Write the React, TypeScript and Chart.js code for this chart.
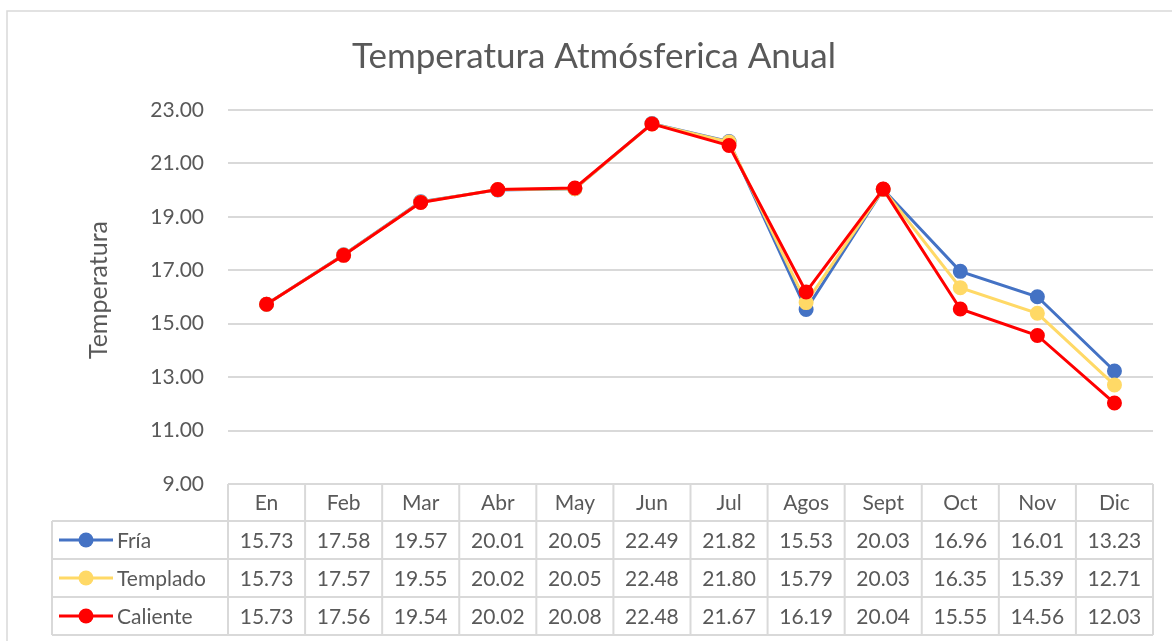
import React, { useEffect, useRef } from "react";
import { Chart, registerables } from "chart.js";

Chart.register(...registerables);

const TITLE = "Temperatura Atmósferica Anual";
const Y_TITLE = "Temperatura";
const categories = ["En", "Feb", "Mar", "Abr", "May", "Jun", "Jul", "Agos", "Sept", "Oct", "Nov", "Dic"];
const seriesNames = ["Fría", "Templado", "Caliente"];
const seriesColors = ["#4472C4", "#FFD966", "#FF0000"];
const fria = [15.73, 17.58, 19.57, 20.01, 20.05, 22.49, 21.82, 15.53, 20.03, 16.96, 16.01, 13.23];
const templado = [15.73, 17.57, 19.55, 20.02, 20.05, 22.48, 21.8, 15.79, 20.03, 16.35, 15.39, 12.71];
const caliente = [15.73, 17.56, 19.54, 20.02, 20.08, 22.48, 21.67, 16.19, 20.04, 15.55, 14.56, 12.03];
const seriesValues = [fria, templado, caliente];
const yMin = 9;
const yMax = 23;
const yStep = 2;

const FONT = "Lato, 'Open Sans', sans-serif";
const TEXT = "#595959";
const LINE = "#d9d9d9";

export default function App() {
  const ref = useRef<HTMLCanvasElement | null>(null);

  useEffect(() => {
    const canvas = ref.current;
    if (!canvas) return;

    const decor = {
      id: "decor",
      beforeDraw(chart: any) {
        const ctx = chart.ctx;
        ctx.save();
        ctx.fillStyle = "#ffffff";
        ctx.fillRect(0, 0, chart.width, chart.height);
        ctx.strokeStyle = LINE;
        ctx.lineWidth = 1.5;
        ctx.strokeRect(7, 11, 1300, 800);
        ctx.restore();
      },
      afterDraw(chart: any) {
        const ctx = chart.ctx;
        const area = chart.chartArea;
        const xs = chart.scales.x;
        ctx.save();
        // title
        ctx.fillStyle = TEXT;
        ctx.font = `35px ${FONT}`;
        ctx.textAlign = "center";
        ctx.textBaseline = "alphabetic";
        ctx.fillText(TITLE, 594, 68);
        // y title
        ctx.save();
        ctx.translate(107, 290);
        ctx.rotate(-Math.PI / 2);
        ctx.font = `25px ${FONT}`;
        ctx.textAlign = "center";
        ctx.textBaseline = "alphabetic";
        ctx.fillText(Y_TITLE, 0, 0);
        ctx.restore();

        // data table
        const n = categories.length;
        const cw = (area.right - area.left) / n;
        const top = area.bottom;
        const headerH = 37;
        const rowH = 38;
        const legendLeft = 52;
        const tableBottom = top + headerH + rowH * seriesNames.length;
        ctx.strokeStyle = LINE;
        ctx.lineWidth = 2;
        ctx.beginPath();
        ctx.moveTo(area.left, top);
        ctx.lineTo(area.right, top);
        for (let r = 0; r <= seriesNames.length; r++) {
          const y = top + headerH + r * rowH;
          ctx.moveTo(legendLeft, y);
          ctx.lineTo(area.right, y);
        }
        for (let i = 0; i <= n; i++) {
          const x = area.left + i * cw;
          ctx.moveTo(x, top);
          ctx.lineTo(x, tableBottom);
        }
        ctx.moveTo(legendLeft, top + headerH);
        ctx.lineTo(legendLeft, tableBottom);
        ctx.stroke();

        ctx.fillStyle = TEXT;
        ctx.font = `21px ${FONT}`;
        ctx.textBaseline = "middle";
        ctx.textAlign = "center";
        for (let i = 0; i < n; i++) {
          const cx = xs.getPixelForValue(i);
          ctx.fillText(categories[i], cx, top + headerH / 2 + 1);
          for (let s = 0; s < seriesNames.length; s++) {
            const cy = top + headerH + s * rowH + rowH / 2 + 1;
            ctx.fillText(seriesValues[s][i].toFixed(2), cx, cy);
          }
        }
        for (let s = 0; s < seriesNames.length; s++) {
          const cy = top + headerH + s * rowH + rowH / 2;
          ctx.strokeStyle = seriesColors[s];
          ctx.lineWidth = 3;
          ctx.beginPath();
          ctx.moveTo(59, cy);
          ctx.lineTo(113, cy);
          ctx.stroke();
          ctx.fillStyle = seriesColors[s];
          ctx.beginPath();
          ctx.arc(86, cy, 7.5, 0, Math.PI * 2);
          ctx.fill();
          ctx.fillStyle = TEXT;
          ctx.textAlign = "left";
          ctx.fillText(seriesNames[s], 117, cy + 1);
        }
        ctx.restore();
      },
    };

    const chart = new Chart(canvas, {
      type: "line",
      data: {
        labels: categories,
        datasets: seriesNames.map((name, s) => ({
          label: name,
          data: seriesValues[s],
          borderColor: seriesColors[s],
          backgroundColor: seriesColors[s],
          pointBackgroundColor: seriesColors[s],
          pointBorderColor: seriesColors[s],
          borderWidth: 3,
          pointRadius: 6.5,
          pointBorderWidth: 2,
          tension: 0,
          order: 3 - s,
        })),
      },
      options: {
        responsive: false,
        animation: false,
        devicePixelRatio: 1,
        layout: { padding: { top: 110, right: 19, bottom: 157, left: 0 } },
        plugins: {
          legend: { display: false },
          title: { display: false },
          tooltip: { enabled: false },
        },
        scales: {
          x: {
            type: "category",
            offset: true,
            display: false,
          },
          y: {
            min: yMin,
            max: yMax,
            afterFit: (s: any) => {
              s.width = 228;
            },
            ticks: {
              stepSize: yStep,
              color: TEXT,
              font: { family: FONT, size: 21 },
              padding: 24,
              callback: (v: any) => Number(v).toFixed(2),
            },
            grid: { color: LINE, lineWidth: 2, drawTicks: false },
            border: { display: false },
          },
        },
      },
      plugins: [decor],
    } as any);

    return () => chart.destroy();
  }, []);

  return (
    <div style={{ position: "fixed", left: 0, top: 0, width: 1172, height: 641, background: "#fff" }}>
      <canvas ref={ref} width={1172} height={641} style={{ width: 1172, height: 641, display: "block" }} />
    </div>
  );
}
